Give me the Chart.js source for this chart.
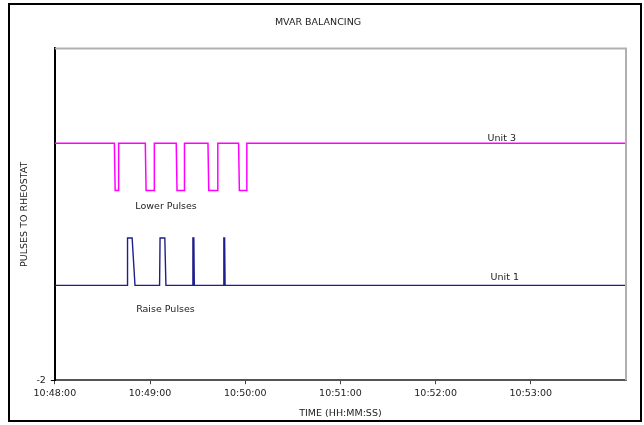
<!DOCTYPE html>
<html>
<head>
<meta charset="utf-8">
<script src="https://cdn.jsdelivr.net/npm/chart.js@4"></script>
<style>
  html, body { margin: 0; padding: 0; background: #fff; }
  #wrap { width: 644px; height: 425px; }
</style>
</head>
<body>
<div id="wrap"><canvas id="chart" width="644" height="425"></canvas></div>
<script>
// seconds after 10:48:00
const unit3Times = [0, 37.5, 38, 40, 40.2, 57, 57.5, 62.5, 62.7, 76.5, 77, 81.5, 81.7, 96.5, 97, 102.5, 102.7, 115.8, 116.3, 120.8, 121, 360];
const unit3Values = [3, 3, 2, 2, 3, 3, 2, 2, 3, 3, 2, 2, 3, 3, 2, 2, 3, 3, 2, 2, 3, 3];
const unit1Times = [0, 45.5, 45.8, 48.7, 50.5, 66, 66.3, 69.3, 70, 86.7, 87, 87.6, 87.9, 106.2, 106.5, 107, 107.3, 360];
const unit1Values = [0, 0, 1, 1, 0, 0, 1, 1, 0, 0, 1, 1, 0, 0, 1, 1, 0, 0];
const xTicks = [0, 60, 120, 180, 240, 300];
const yTicks = [-2];
const notes = [
  { text: "Unit 3", x: 281.7, y: 3.09 },
  { text: "Unit 1", x: 283.6, y: 0.17 },
  { text: "Lower Pulses", x: 70.1, y: 1.66 },
  { text: "Raise Pulses", x: 69.7, y: -0.505 }
];

const FONT = "'DejaVu Sans', sans-serif";
const SIZE = 9.5;

function toClock(s) {
  const total = 10 * 3600 + 48 * 60 + s;
  const h = Math.floor(total / 3600);
  const m = Math.floor((total % 3600) / 60);
  const sec = Math.round(total % 60);
  return h + ":" + String(m).padStart(2, "0") + ":" + String(sec).padStart(2, "0");
}

const decor = {
  id: "decor",
  beforeDraw(chart) {
    const ctx = chart.ctx;
    ctx.save();
    ctx.fillStyle = "#fff";
    ctx.fillRect(0, 0, chart.width, chart.height);
    ctx.restore();
  },
  afterDraw(chart) {
    const ctx = chart.ctx;
    const a = chart.chartArea;
    ctx.save();
    // top and right edges of plot area
    ctx.strokeStyle = "#b0b0b0";
    ctx.lineWidth = 2;
    ctx.beginPath();
    ctx.moveTo(a.left, a.top);
    ctx.lineTo(a.right, a.top);
    ctx.lineTo(a.right, a.bottom);
    ctx.stroke();
    // outer frame
    ctx.strokeStyle = "#000";
    ctx.lineWidth = 2;
    ctx.strokeRect(9, 4, 632, 417);
    // annotations
    ctx.fillStyle = "#222";
    ctx.font = SIZE + "px " + FONT;
    ctx.textAlign = "center";
    ctx.textBaseline = "middle";
    notes.forEach(n => {
      ctx.fillText(n.text, chart.scales.x.getPixelForValue(n.x), chart.scales.y.getPixelForValue(n.y));
    });
    ctx.restore();
  }
};

new Chart(document.getElementById("chart"), {
  type: "line",
  data: {
    datasets: [
      {
        label: "Unit 3",
        data: unit3Times.map((t, i) => ({ x: t, y: unit3Values[i] })),
        borderColor: "#ff00ff",
        borderWidth: 1.5,
        pointRadius: 0,
        tension: 0
      },
      {
        label: "Unit 1",
        data: unit1Times.map((t, i) => ({ x: t, y: unit1Values[i] })),
        borderColor: "#1f1f8c",
        borderWidth: 1.4,
        pointRadius: 0,
        tension: 0
      }
    ]
  },
  options: {
    responsive: false,
    animation: false,
    layout: { padding: { left: 10, right: 18, top: 0, bottom: 4 } },
    plugins: {
      legend: { display: false },
      tooltip: { enabled: false },
      title: {
        display: true,
        text: "MVAR BALANCING",
        color: "#222",
        font: { family: FONT, size: SIZE, weight: "normal" },
        padding: { top: 17, bottom: 20 }
      }
    },
    scales: {
      x: {
        type: "linear",
        min: 0,
        max: 360,
        afterBuildTicks: axis => { axis.ticks = xTicks.map(v => ({ value: v })); },
        ticks: {
          color: "#222",
          font: { family: FONT, size: SIZE },
          padding: 4,
          maxRotation: 0,
          callback: v => toClock(v)
        },
        grid: { drawOnChartArea: false, tickLength: 4, color: "#444" },
        border: { color: "#555", width: 2 },
        title: {
          display: true,
          text: "TIME (HH:MM:SS)",
          color: "#222",
          font: { family: FONT, size: SIZE },
          padding: { top: 4, bottom: 2 }
        }
      },
      y: {
        min: -2,
        max: 5,
        afterBuildTicks: axis => { axis.ticks = yTicks.map(v => ({ value: v })); },
        ticks: {
          color: "#222",
          font: { family: FONT, size: SIZE },
          padding: 5
        },
        grid: { drawOnChartArea: false, tickLength: 4, color: "#000" },
        border: { color: "#000", width: 2 },
        title: {
          display: true,
          text: "PULSES TO RHEOSTAT",
          color: "#222",
          font: { family: FONT, size: SIZE },
          padding: { top: 9, bottom: 1 }
        }
      }
    }
  },
  plugins: [decor]
});
</script>
</body>
</html>
